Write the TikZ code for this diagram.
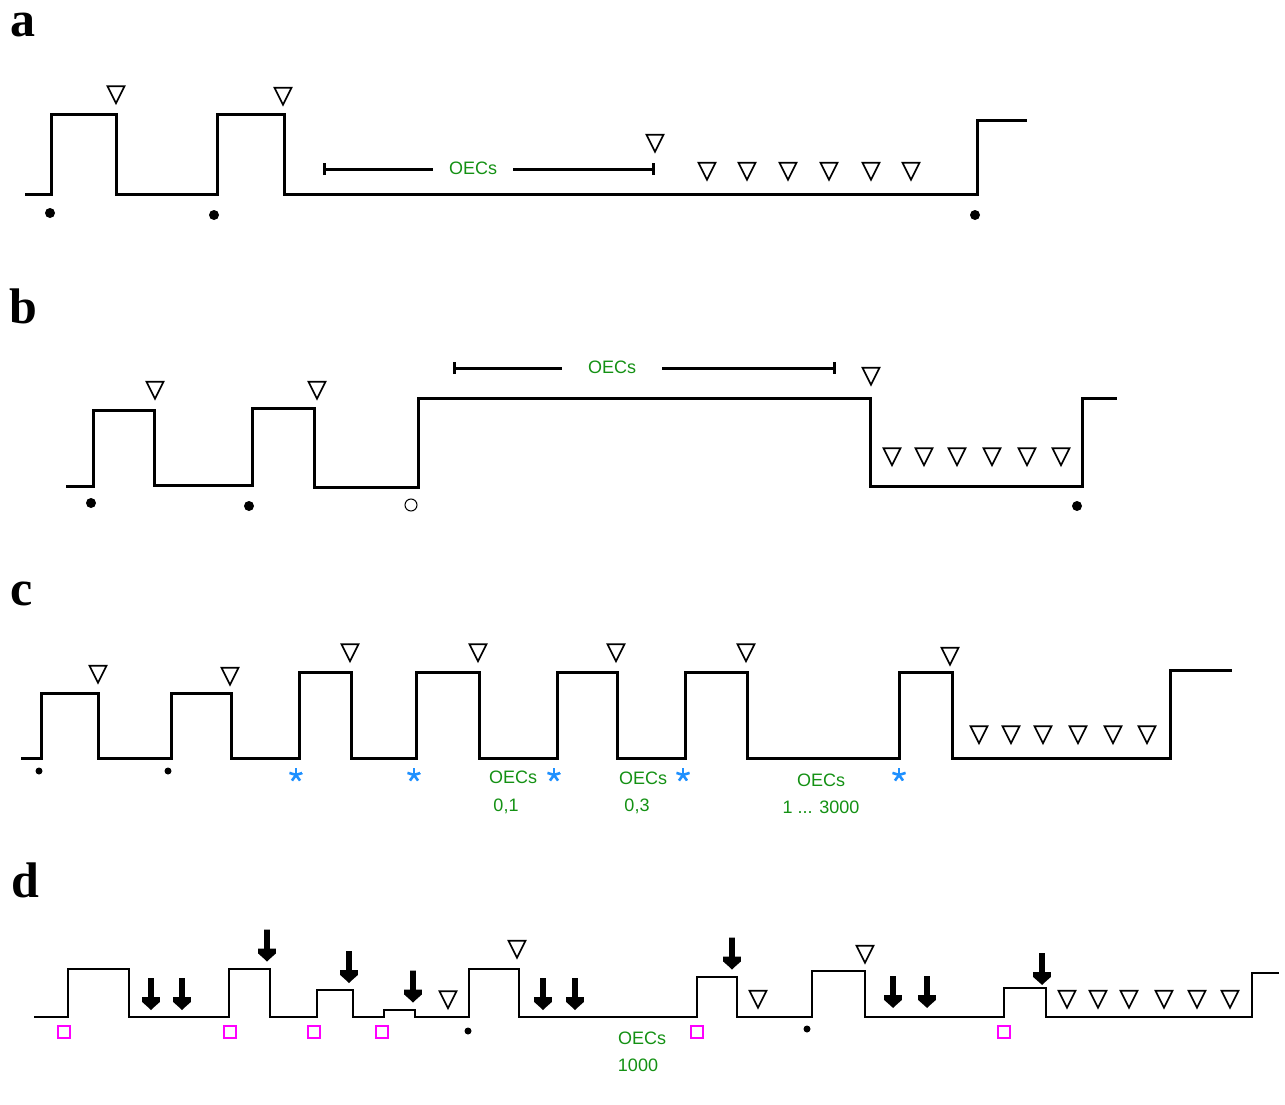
\documentclass[tikz,border=0pt]{standalone}
\usepackage{fontspec}
\setmainfont{Liberation Serif}
\setsansfont{Liberation Sans}
\usetikzlibrary{shapes.geometric,arrows.meta}
\definecolor{oecgreen}{RGB}{20,145,20}
\definecolor{starblue}{RGB}{30,144,255}
\definecolor{sqmag}{RGB}{255,0,255}
\tikzset{
  wave/.style={line width=3pt, line join=miter},
  waved/.style={line width=2pt, line join=miter},
  tri/.style={draw, isosceles triangle, isosceles triangle stretches, shape border rotate=-90,
    minimum width=17pt, minimum height=17pt, inner sep=0pt, line width=1.6pt, fill=white, yshift=3pt},
  dot/.style={circle, fill=black, minimum size=10pt, inner sep=0pt},
  sdot/.style={circle, fill=black, minimum size=7pt, inner sep=0pt},
  odot/.style={circle, draw, line width=1pt, minimum size=12pt, inner sep=0pt},
  sq/.style={draw=sqmag, line width=1.5pt, minimum size=12pt, inner sep=0pt},
  astx/.style={circle, minimum size=14pt, inner sep=0pt, path picture={
     \foreach \a in {90,162,234,306,18}
       \draw[line width=2.6pt, starblue] (path picture bounding box.center) -- ++(\a:7pt);}},
  darr/.style={minimum width=18pt, minimum height=32pt, inner sep=0pt, path picture={
     \fill ([xshift=-2.8pt]path picture bounding box.north) -- ([xshift=2.8pt]path picture bounding box.north)
       -- ([xshift=2.8pt,yshift=13pt]path picture bounding box.south)
       -- ([xshift=8.8pt,yshift=13pt]path picture bounding box.south)
       -- ([xshift=8.8pt,yshift=8pt]path picture bounding box.south)
       -- ([xshift=1.5pt,yshift=1.5pt]path picture bounding box.south)
       -- (path picture bounding box.south)
       -- ([xshift=-1.5pt,yshift=1.5pt]path picture bounding box.south)
       -- ([xshift=-8.8pt,yshift=8pt]path picture bounding box.south)
       -- ([xshift=-8.8pt,yshift=13pt]path picture bounding box.south)
       -- ([xshift=-2.8pt,yshift=13pt]path picture bounding box.south) -- cycle;}},
  oec/.style={text=oecgreen, font=\sffamily\fontsize{18}{20}\selectfont, inner sep=0pt},
  panel/.style={font=\bfseries\fontsize{50}{52}\selectfont, inner sep=0pt, anchor=base west},
  obar/.style={line width=3pt}
}
\begin{document}
\begin{tikzpicture}[x=1pt,y=-1pt]
\useasboundingbox[fill=white] (0,0) rectangle (1285,1105);

% ---------- panel labels
\node[panel] (la) at (10,37) {a};
\node[panel] (lb) at (9,323) {b};
\node[panel] (lc) at (10,605) {c};
\node[panel] (ld) at (11,897) {d};

% ---------- panel a
\draw[wave] (25,194) -- (51,194) -- (51,115) -- (116,115) -- (116,194) -- (217,194) -- (217,115)
  -- (284,115) -- (284,194) -- (977,194) -- (977,121) -- (1027,121);
\node[tri] (a1) at (116,94.5) {};
\node[tri] (a2) at (283,96) {};
\node[tri] (a3) at (655,143) {};
\foreach \x [count=\i] in {707,747,788,829,871,911} \node[tri] (ar\i) at (\x,171) {};
\node[dot] (ad1) at (50,213) {};
\node[dot] (ad2) at (214,215) {};
\node[dot] (ad3) at (975,215) {};
\coordinate (aL) at (323,169);
\coordinate (aR) at (655,169);
\node[oec, inner xsep=16pt] (aT) at (473,168) {OECs};
\draw[obar, {Bar[width=12pt]}-] (aL) -- (aT.west |- aL);
\draw[obar, -{Bar[width=12pt]}] (aT.east |- aR) -- (aR);

% ---------- panel b
\draw[wave] (66,486) -- (93,486) -- (93,410) -- (154,410) -- (154,485) -- (252,485) -- (252,408)
  -- (314,408) -- (314,487) -- (418,487) -- (418,398) -- (870,398) -- (870,486) -- (1082,486)
  -- (1082,398) -- (1117,398);
\node[tri] (b1) at (155,390) {};
\node[tri] (b2) at (317,390) {};
\node[tri] (b3) at (871,376) {};
\foreach \x [count=\i] in {892,924,957,992,1027,1061} \node[tri] (br\i) at (\x,456.5) {};
\node[dot] (bd1) at (91,503) {};
\node[dot] (bd2) at (249,506) {};
\node[odot] (bo) at (411,505) {};
\node[dot] (bd3) at (1077,506) {};
\coordinate (bL) at (453,368);
\coordinate (bR) at (836,368);
\node[oec, inner xsep=26pt] (bT) at (612,367) {OECs};
\draw[obar, {Bar[width=12pt]}-] (bL) -- (bT.west |- bL);
\draw[obar, -{Bar[width=12pt]}] (bT.east |- bR) -- (bR);

% ---------- panel c
\draw[wave] (21,758) -- (41,758) -- (41,693) -- (98,693) -- (98,758) -- (171,758) -- (171,693)
  -- (231,693) -- (231,758) -- (299,758) -- (299,672) -- (351,672) -- (351,758) -- (416,758)
  -- (416,672) -- (479,672) -- (479,758) -- (557,758) -- (557,672) -- (617,672) -- (617,758)
  -- (685,758) -- (685,672) -- (747,672) -- (747,758) -- (899,758) -- (899,672) -- (952,672)
  -- (952,758) -- (1170,758) -- (1170,670) -- (1232,670);
\node[tri] (c1) at (98,674) {};
\node[tri] (c2) at (230,676) {};
\foreach \x [count=\i] in {350,478,616,746} \node[tri] (cu\i) at (\x,652.5) {};
\node[tri] (c7) at (950,656) {};
\foreach \x [count=\i] in {979,1011,1043,1078,1113,1147} \node[tri] (cr\i) at (\x,734.5) {};
\node[sdot] (cd1) at (39,771) {};
\node[sdot] (cd2) at (168,771) {};
\foreach \x [count=\i] in {296,414,554,683,899} \node[astx] (cs\i) at (\x,775) {};
\node[oec] (cT1) at (513,777) {OECs};
\node[oec] (cN1) at (506,806) {0,1};
\node[oec] (cT2) at (643,778) {OECs};
\node[oec] (cN2) at (637,806) {0,3};
\node[oec] (cT3) at (821,780) {OECs};
\node[oec] (cN3) at (821,807) {1 ... 3000};

% ---------- panel d
\draw[waved] (34,1017) -- (68,1017) -- (68,969) -- (129,969) -- (129,1017) -- (229,1017) -- (229,969)
  -- (270,969) -- (270,1017) -- (317,1017) -- (317,990) -- (353,990) -- (353,1017) -- (384,1017)
  -- (384,1010) -- (415,1010) -- (415,1017) -- (469,1017) -- (469,969) -- (519,969) -- (519,1017)
  -- (697,1017) -- (697,977) -- (737,977) -- (737,1017) -- (812,1017) -- (812,971) -- (865,971)
  -- (865,1017) -- (1004,1017) -- (1004,988) -- (1046,988) -- (1046,1017) -- (1252,1017)
  -- (1252,973) -- (1279,973);
\node[darr] (da1) at (151,994) {};
\node[darr] (da2) at (182,994) {};
\node[darr] (da3) at (267,945.5) {};
\node[darr] (da4) at (349,967) {};
\node[darr] (da5) at (413,986.5) {};
\node[darr] (da6) at (543,994) {};
\node[darr] (da7) at (575,994) {};
\node[darr] (da8) at (732,953.5) {};
\node[darr] (da9) at (893,992) {};
\node[darr] (da10) at (927,992) {};
\node[darr] (da11) at (1042,969) {};
\node[tri] (d1) at (448,999.5) {};
\node[tri] (d2) at (517,949) {};
\node[tri] (d3) at (758,999) {};
\node[tri] (d4) at (865,954) {};
\foreach \x [count=\i] in {1067,1098,1129,1164,1197,1230} \node[tri] (dr\i) at (\x,999) {};
\foreach \x [count=\i] in {64,230,314,382,697,1004} \node[sq] (dq\i) at (\x,1032) {};
\node[sdot] (dd1) at (468,1031) {};
\node[sdot] (dd2) at (807,1029) {};
\node[oec] (dT) at (642,1038) {OECs};
\node[oec] (dN) at (638,1065) {1000};
\end{tikzpicture}
\end{document}
